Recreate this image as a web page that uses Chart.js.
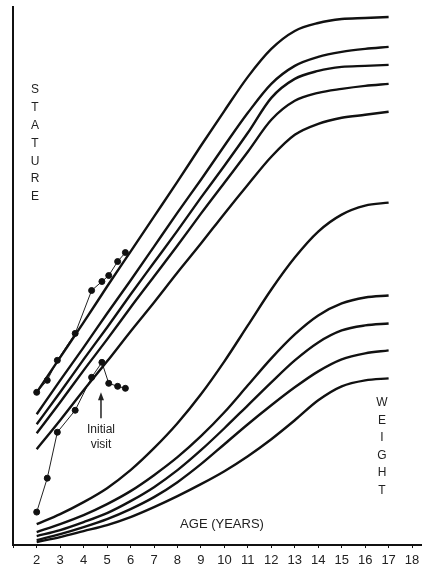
<!DOCTYPE html>
<html>
<head>
  <script src="https://cdn.jsdelivr.net/npm/chart.js@4.4.1/dist/chart.umd.min.js"></script>
  <style>
    body { margin: 0; padding: 0; background: #fff; overflow: hidden; }
    #wrap { width: 426px; height: 572px; }
  </style>
</head>
<body>
  <div id="wrap"><canvas id="growth" width="426" height="572"></canvas></div>
  <script>
    // Ages (years) for the reference curves
    const ages = [2, 3, 4, 5, 6, 7, 8, 9, 10, 11, 12, 13, 14, 15, 16, 17];
    const xTickLabels = [2, 3, 4, 5, 6, 7, 8, 9, 10, 11, 12, 13, 14, 15, 16, 17, 18];

    // Stature percentile curves, top to bottom (chart units, no scale shown)
    const stature1 = [153, 188, 223, 259, 294, 329, 364, 400, 435, 469, 497, 515, 523, 527, 528, 529];
    const stature2 = [131, 165, 198, 232, 265, 299, 333, 366, 400, 433, 462, 480, 489, 494, 497, 499];
    const stature3 = [121, 153, 186, 218, 251, 283, 315, 348, 380, 413, 448, 467, 475, 479, 480, 481];
    const stature4 = [112, 143, 175, 206, 238, 269, 300, 332, 363, 394, 426, 445, 453, 457, 460, 462];
    const stature5 = [96, 125, 155, 184, 214, 243, 273, 302, 332, 361, 389, 411, 422, 428, 431, 434];

    // Weight percentile curves, top to bottom
    const weight1 = [21, 31, 43, 57, 75, 97, 122, 151, 184, 220, 256, 288, 314, 331, 340, 343];
    const weight2 = [13, 21, 30, 41, 54, 70, 88, 109, 133, 160, 187, 211, 230, 242, 248, 250];
    const weight3 = [9, 15, 23, 32, 44, 58, 75, 95, 117, 140, 163, 185, 203, 215, 220, 222];
    const weight4 = [5, 11, 18, 26, 36, 48, 63, 81, 101, 121, 140, 158, 174, 186, 192, 195];
    const weight5 = [3, 8, 14, 20, 28, 38, 49, 61, 74, 89, 106, 125, 145, 159, 165, 167];

    // Patient measurements
    const visitAges = [2.0, 2.45, 2.88, 3.64, 4.34, 4.78, 5.07, 5.45, 5.78];
    const patientStature = [153, 165, 185, 212, 255, 264, 270, 284, 293];
    const patientWeight = [33, 67, 113, 135, 168, 183, 162, 159, 157];

    const toPoints = (xs, ys) => xs.map((a, i) => ({ x: a, y: ys[i] }));

    const curve = (values) => ({
      data: toPoints(ages, values),
      borderColor: '#111',
      borderWidth: 2.4,
      pointRadius: 0,
      cubicInterpolationMode: 'monotone',
      fill: false
    });

    const patient = (values) => ({
      data: toPoints(visitAges, values),
      borderColor: '#222',
      borderWidth: 1,
      pointRadius: 3,
      pointBackgroundColor: '#111',
      pointBorderColor: '#111',
      tension: 0,
      fill: false
    });

    const fontFamily = '"Liberation Sans", Arial, Helvetica, sans-serif';

    // Axis captions, stacked letters and the "Initial visit" arrow
    const labelsPlugin = {
      id: 'labels',
      afterDraw(chart) {
        const { ctx, scales: { x, y } } = chart;
        ctx.save();
        ctx.fillStyle = '#222';
        ctx.textAlign = 'center';
        ctx.textBaseline = 'middle';
        ctx.font = '12px ' + fontFamily;
        'STATURE'.split('').forEach((c, i) => ctx.fillText(c, 35, 90 + i * 17.8));
        'WEIGHT'.split('').forEach((c, i) => ctx.fillText(c, 382, 403 + i * 17.5));
        ctx.font = '13px ' + fontFamily;
        ctx.fillText('AGE (YEARS)', 222, 524);
        ctx.font = '12px ' + fontFamily;
        const ax = x.getPixelForValue(4.74);
        ctx.fillText('Initial', ax, 430);
        ctx.fillText('visit', ax, 445);
        // arrow
        const yTop = y.getPixelForValue(153);
        const yBot = y.getPixelForValue(127);
        ctx.strokeStyle = '#222';
        ctx.lineWidth = 1.5;
        ctx.beginPath();
        ctx.moveTo(ax, yBot);
        ctx.lineTo(ax, yTop + 6);
        ctx.stroke();
        ctx.beginPath();
        ctx.moveTo(ax, yTop);
        ctx.lineTo(ax - 3, yTop + 8);
        ctx.lineTo(ax + 3, yTop + 8);
        ctx.closePath();
        ctx.fill();
        ctx.restore();
      }
    };

    new Chart(document.getElementById('growth'), {
      type: 'line',
      data: {
        datasets: [
          curve(stature1), curve(stature2), curve(stature3), curve(stature4), curve(stature5),
          curve(weight1), curve(weight2), curve(weight3), curve(weight4), curve(weight5),
          patient(patientStature), patient(patientWeight)
        ]
      },
      options: {
        responsive: false,
        animation: false,
        layout: { padding: { left: 13, top: 7, right: 0, bottom: 0 } },
        plugins: {
          legend: { display: false },
          tooltip: { enabled: false }
        },
        scales: {
          x: {
            type: 'linear',
            min: 0.99,
            max: 18.38,
            grid: { drawOnChartArea: false, tickLength: 3, color: '#111' },
            border: { display: true, color: '#111', width: 2 },
            ticks: {
              stepSize: 1,
              includeBounds: false,
              autoSkip: false,
              maxRotation: 0,
              color: '#222',
              padding: 6,
              font: { size: 13, family: fontFamily, lineHeight: 0.92 },
              callback: (v) => xTickLabels.includes(v) ? String(v) : ''
            }
          },
          y: {
            type: 'linear',
            min: 0,
            max: 539,
            grid: { display: false, drawTicks: false },
            border: { display: true, color: '#111', width: 2 },
            ticks: { display: false }
          }
        }
      },
      plugins: [labelsPlugin]
    });
  </script>
</body>
</html>
